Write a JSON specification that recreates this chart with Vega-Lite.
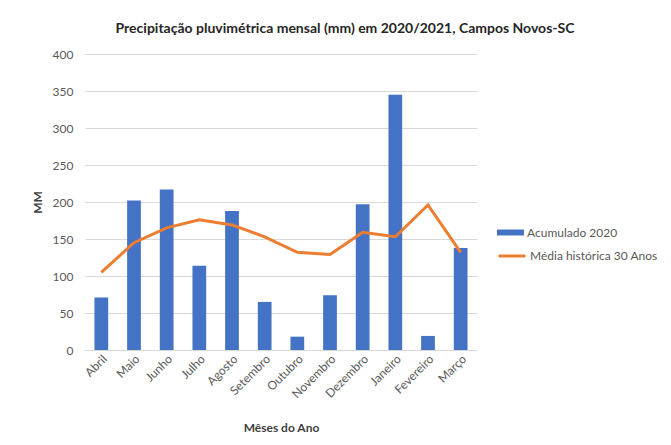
{
  "$schema": "https://vega.github.io/schema/vega-lite/v6.json",
  "autosize": "none",
  "padding": {"left": 85, "top": 54, "right": 194, "bottom": 95},
  "width": 392,
  "height": 296,
  "background": "white",
  "title": {
    "text": "Precipitação pluvimétrica mensal (mm) em 2020/2021, Campos Novos-SC",
    "font": "Lato",
    "fontSize": 14,
    "fontWeight": "bold",
    "color": "#262626",
    "anchor": "middle",
    "dx": 64,
    "offset": 12
  },
  "config": {
    "view": {"stroke": null},
    "font": "Lato",
    "axis": {
      "labelFont": "Lato",
      "labelFontSize": 12,
      "labelColor": "#595959",
      "titleFont": "Lato",
      "titleFontSize": 12,
      "titleFontWeight": "bold",
      "titleColor": "#404040",
      "gridColor": "#D9D9D9",
      "ticks": false
    },
    "legend": {
      "labelFont": "Lato",
      "labelFontSize": 12,
      "labelColor": "#595959"
    }
  },
  "data": {
    "values": [
      {"mes": "Abril", "acumulado": 71, "media": 105},
      {"mes": "Maio", "acumulado": 202, "media": 145},
      {"mes": "Junho", "acumulado": 217, "media": 165},
      {"mes": "Julho", "acumulado": 114, "media": 176},
      {"mes": "Agosto", "acumulado": 188, "media": 169},
      {"mes": "Setembro", "acumulado": 65, "media": 153},
      {"mes": "Outubro", "acumulado": 18, "media": 132},
      {"mes": "Novembro", "acumulado": 74, "media": 129},
      {"mes": "Dezembro", "acumulado": 197, "media": 159},
      {"mes": "Janeiro", "acumulado": 345, "media": 153},
      {"mes": "Fevereiro", "acumulado": 19, "media": 196},
      {"mes": "Março", "acumulado": 138, "media": 132}
    ]
  },
  "encoding": {
    "x": {
      "field": "mes",
      "type": "nominal",
      "sort": null,
      "title": "Mêses do Ano",
      "scale": {"paddingInner": 0.58, "paddingOuter": 0.29},
      "axis": {
        "labelAngle": -45,
        "labelPadding": 3,
        "titlePadding": 22,
        "domainColor": "#D9D9D9",
        "grid": false
      }
    }
  },
  "layer": [
    {
      "mark": {"type": "bar", "color": "#4472C4"},
      "encoding": {
        "y": {
          "field": "acumulado",
          "type": "quantitative",
          "title": "MM",
          "scale": {"domain": [0, 400]},
          "axis": {
            "values": [0, 50, 100, 150, 200, 250, 300, 350, 400],
            "labelOverlap": false,
            "domain": false,
            "labelPadding": 12,
            "titlePadding": 8
          }
        },
        "color": {
          "datum": "Acumulado 2020",
          "scale": {"range": ["#4472C4"]},
          "legend": {
            "title": null,
            "orient": "none",
            "legendX": 412,
            "legendY": 165,
            "symbolType": "M-1,-0.22L1,-0.22L1,0.22L-1,0.22Z",
            "symbolSize": 729,
            "symbolStrokeWidth": 0,
            "labelOffset": 3
          }
        }
      }
    },
    {
      "mark": {"type": "line", "strokeWidth": 3, "color": "#ED7D31"},
      "encoding": {
        "y": {
          "field": "media",
          "type": "quantitative",
          "title": "MM",
          "scale": {"domain": [0, 400]},
          "axis": {
            "values": [0, 50, 100, 150, 200, 250, 300, 350, 400],
            "labelOverlap": false,
            "domain": false,
            "labelPadding": 12,
            "titlePadding": 8
          }
        },
        "stroke": {
          "datum": "Média histórica 30 Anos",
          "scale": {"range": ["#ED7D31"]},
          "legend": {
            "title": null,
            "orient": "none",
            "legendX": 412,
            "legendY": 187,
            "symbolType": "stroke",
            "symbolSize": 729,
            "symbolStrokeWidth": 3,
            "labelOffset": 3
          }
        }
      }
    }
  ]
}
